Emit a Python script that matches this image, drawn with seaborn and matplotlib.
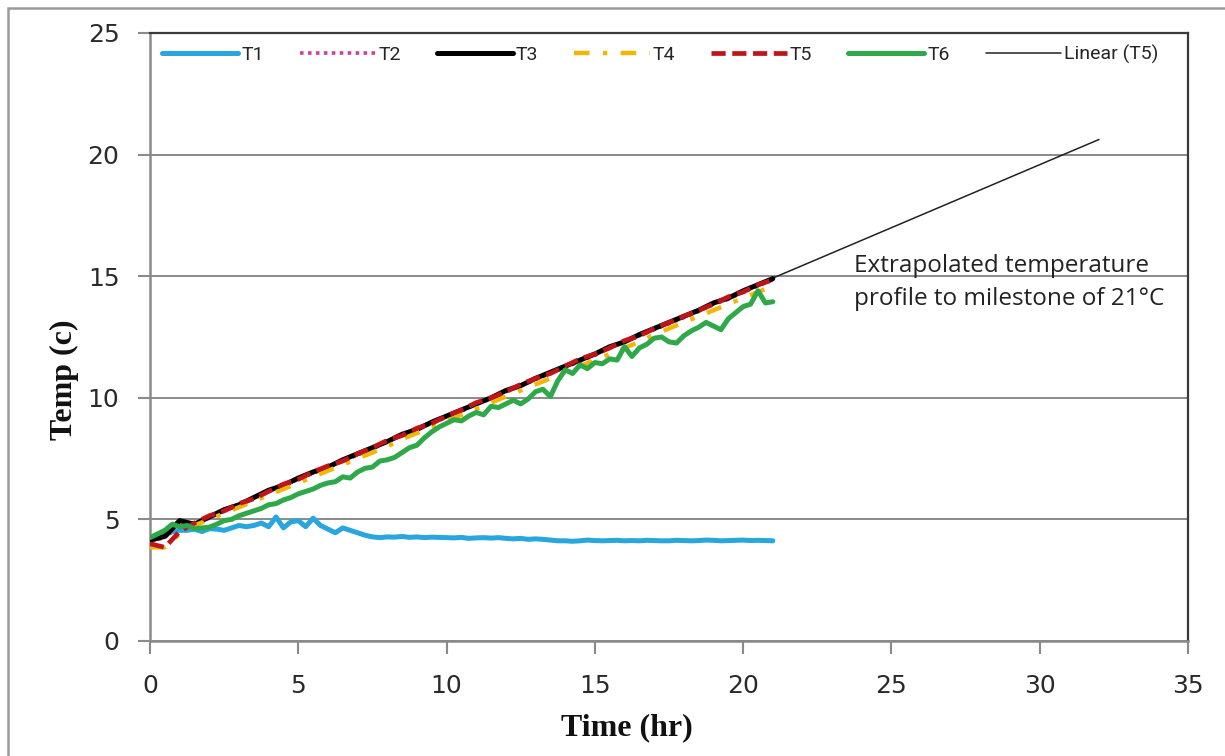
import numpy as np
import matplotlib
matplotlib.use("Agg")
import matplotlib.pyplot as plt
import seaborn as sns
from matplotlib.patches import Rectangle

# time bases (hr): 0.5 h logging for T2-T5, 0.25 h for T1 and T6
time_a = np.arange(0, 21.01, 0.5)
time_b = np.arange(0, 21.01, 0.25)

t1 = [4.20, 4.35, 4.45, 4.50, 4.55, 4.55, 4.60, 4.50, 4.62, 4.60, 4.55, 4.65,
      4.75, 4.70, 4.75, 4.85, 4.70, 5.10, 4.65, 4.90, 4.95, 4.70, 5.05, 4.75,
      4.60, 4.45, 4.65, 4.55, 4.45, 4.35, 4.28, 4.25, 4.28, 4.27, 4.30, 4.26,
      4.28, 4.25, 4.27, 4.26, 4.25, 4.24, 4.26, 4.22, 4.24, 4.25, 4.23, 4.25,
      4.22, 4.20, 4.22, 4.18, 4.20, 4.18, 4.15, 4.12, 4.12, 4.10, 4.12, 4.15,
      4.13, 4.12, 4.13, 4.14, 4.12, 4.13, 4.12, 4.14, 4.13, 4.12, 4.12, 4.14,
      4.13, 4.12, 4.13, 4.15, 4.14, 4.12, 4.13, 4.14, 4.15, 4.13, 4.14, 4.13,
      4.12]
t2 = [4.10, 4.25, 4.85, 4.80, 5.05, 5.35, 5.60, 5.85, 6.15, 6.40, 6.65, 6.90,
      7.15, 7.40, 7.65, 7.90, 8.20, 8.45, 8.70, 8.95, 9.20, 9.45, 9.75, 9.95,
      10.25, 10.50, 10.75, 11.00, 11.25, 11.50, 11.75, 12.05, 12.30, 12.55,
      12.80, 13.05, 13.30, 13.55, 13.85, 14.05, 14.35, 14.60, 14.85]
t3 = [4.15, 4.30, 4.95, 4.80, 5.10, 5.40, 5.60, 5.90, 6.20, 6.40, 6.70, 6.95,
      7.15, 7.45, 7.70, 7.95, 8.20, 8.50, 8.70, 9.00, 9.25, 9.50, 9.75, 10.00,
      10.30, 10.50, 10.80, 11.05, 11.30, 11.55, 11.80, 12.10, 12.30, 12.60,
      12.85, 13.10, 13.35, 13.60, 13.90, 14.10, 14.40, 14.65, 14.90]
t4 = [3.85, 3.85, 4.40, 4.75, 5.00, 5.25, 5.50, 5.75, 6.00, 6.25, 6.50, 6.75,
      7.00, 7.25, 7.50, 7.75, 8.00, 8.30, 8.55, 8.80, 9.05, 9.30, 9.55, 9.80,
      10.05, 10.30, 10.55, 10.80, 11.05, 11.30, 11.55, 11.80, 12.05, 12.30,
      12.60, 12.85, 13.10, 13.35, 13.60, 13.85, 14.10, 14.35, 14.60]
t5 = [4.00, 3.85, 4.50, 4.85, 5.15, 5.35, 5.65, 5.85, 6.15, 6.45, 6.65, 6.95,
      7.20, 7.40, 7.70, 7.95, 8.25, 8.45, 8.75, 8.95, 9.25, 9.50, 9.80, 10.00,
      10.25, 10.55, 10.80, 11.00, 11.30, 11.60, 11.80, 12.05, 12.35, 12.55,
      12.85, 13.10, 13.35, 13.60, 13.85, 14.15, 14.35, 14.65, 14.85]
t6 = [4.25, 4.40, 4.55, 4.80, 4.70, 4.75, 4.62, 4.65, 4.68, 4.80, 4.95, 5.00,
      5.15, 5.25, 5.35, 5.45, 5.60, 5.65, 5.80, 5.90, 6.05, 6.15, 6.25, 6.40,
      6.50, 6.55, 6.75, 6.70, 6.95, 7.10, 7.15, 7.40, 7.45, 7.55, 7.75, 7.95,
      8.05, 8.35, 8.60, 8.80, 8.95, 9.10, 9.05, 9.25, 9.40, 9.30, 9.65, 9.60,
      9.75, 9.90, 9.75, 9.95, 10.25, 10.35, 10.05, 10.70, 11.15, 11.00, 11.35,
      11.20, 11.45, 11.40, 11.60, 11.55, 12.10, 11.70, 12.05, 12.20, 12.45,
      12.50, 12.30, 12.25, 12.55, 12.75, 12.90, 13.10, 12.95, 12.80, 13.25,
      13.50, 13.75, 13.85, 14.40, 13.90, 13.95]

trend_end = 32  # trendline forecast to the 21 C milestone

sns.set_theme(style="white")
plt.rcParams['font.family'] = ['DejaVu Sans']

fig = plt.figure(figsize=(12.25, 7.56), dpi=100)
ax = fig.add_axes([150 / 1225, 1 - 641 / 756, 1038 / 1225, 608 / 756])

# outer chart border (Excel style)
fig.patches.append(Rectangle((8 / 1225, -0.1), 1.2, 1.1 - 8 / 756, transform=fig.transFigure,
                             fill=False, edgecolor='#9a9a9a', linewidth=1.8))

# linear trend of T5
slope, intercept = np.polyfit(time_a, t5, 1)
trend_x = np.array([0, trend_end])
sns.lineplot(x=trend_x, y=intercept + slope * trend_x, ax=ax, color='#222222',
             linewidth=1.1, label='Linear (T5)', zorder=2)

sns.lineplot(x=time_b, y=t1, ax=ax, color='#29a6de', linewidth=3.6, label='T1', zorder=3)
sns.lineplot(x=time_a, y=t2, ax=ax, color='#c8439e', linewidth=2.6,
             linestyle=(0, (1, 1.2)), label='T2', zorder=3)
sns.lineplot(x=time_a, y=t3, ax=ax, color='black', linewidth=3.6, label='T3', zorder=3)
sns.lineplot(x=time_a, y=t4, ax=ax, color='#f2b705', linewidth=3.2,
             linestyle=(0, (3.5, 3, 1, 3)), label='T4', zorder=3)
sns.lineplot(x=time_a, y=t5, ax=ax, color='#c0141b', linewidth=3.4,
             linestyle=(0, (3, 1.4)), label='T5', zorder=3)
sns.lineplot(x=time_b, y=t6, ax=ax, color='#2fa84a', linewidth=3.6, label='T6', zorder=3)

ax.set_xlim(0, 35)
ax.set_ylim(0, 25)
ax.set_xticks(range(0, 36, 5))
ax.set_yticks(range(0, 26, 5))
ax.yaxis.grid(True, color='#8a8a8a', linewidth=1.4)
ax.xaxis.grid(False)
ax.set_axisbelow(True)

for side in ['left', 'bottom']:
    ax.spines[side].set_color('#8a8a8a')
    ax.spines[side].set_linewidth(1.8)
for side in ['top', 'right']:
    ax.spines[side].set_color('#3a3a3a')
    ax.spines[side].set_linewidth(1.6)

ax.tick_params(axis='both', direction='out', length=9, width=1.5, color='#8a8a8a',
               labelsize=18, labelcolor='#2a2a2a')
ax.tick_params(axis='x', pad=15, bottom=True)
ax.tick_params(axis='y', pad=13, left=True)

ax.set_xlabel('Time (hr)', family='Liberation Serif', fontweight='bold', fontsize=23, color='#111111')
ax.set_ylabel('Temp (c)', family='Liberation Serif', fontweight='bold', fontsize=23, color='#111111')
ax.xaxis.set_label_coords(0.459, -0.118)
ax.yaxis.set_label_coords(-0.068, 0.43)

handles, labels = ax.get_legend_handles_labels()
order = ['T1', 'T2', 'T3', 'T4', 'T5', 'T6', 'Linear (T5)']
hl = dict(zip(labels, handles))
ax.legend([hl[k] for k in order], order, loc='center left', bbox_to_anchor=(0.012, 0.964),
          ncol=7, frameon=False, handlelength=3.9, handletextpad=0.15, columnspacing=1.85,
          borderaxespad=0, borderpad=0,
          prop={'family': ['Roboto', 'DejaVu Sans'], 'size': 14})

ax.text(23.75, 14.75, 'Extrapolated temperature\nprofile to milestone of 21\u00b0C',
        family=['Open Sans', 'DejaVu Sans'], fontsize=17.5, color='#222222',
        linespacing=1.5, va='center', ha='left')

fig.savefig('out.png', dpi=100, facecolor='white')
